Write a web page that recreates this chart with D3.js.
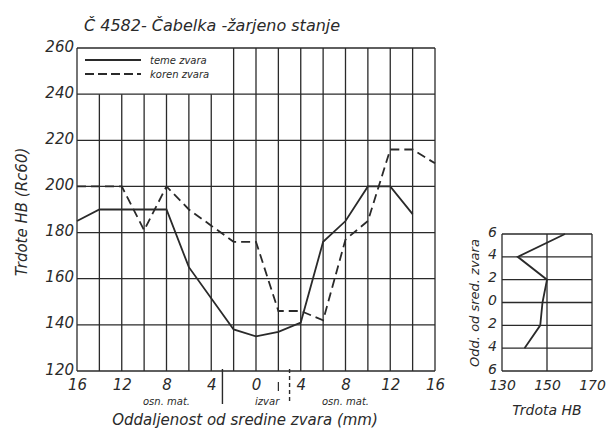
<!DOCTYPE html>
<html>
<head>
<meta charset="utf-8">
<script src="https://cdn.jsdelivr.net/npm/d3@7"></script>
<style>
  body { margin: 0; background: #fff; }
  svg text { font-family: "DejaVu Sans", sans-serif; font-style: italic; fill: #2a2a2a; }
</style>
</head>
<body>
<script>
// main chart data: distance from weld centre (mm) and hardness
const positions = [-16, -14, -12, -10, -8, -6, -4, -2, 0, 2, 4, 6, 8, 10, 12, 14, 16];
const temeZvara = [185, 190, 190, 190, 190, 165, null, 138, 135, 137, 141, 176, 185, 200, 200, 188, null];
const korenZvara = [200, null, 200, 181, 200, 190, 183, 176, 176, 146, 146, 142, 177, 185, 216, 216, 210];
const xTicks = [-16, -12, -8, -4, 0, 4, 8, 12, 16];
const yTicks = [120, 140, 160, 180, 200, 220, 240, 260];

// small side chart
const sidePositions = [6, 4, 2, 0, -2, -4];
const sideHardness = [158, 137, 150, 148, 147, 140];
const sideYTicks = [-6, -4, -2, 0, 2, 4, 6];
const sideXTicks = [130, 150, 170];

const W = 608, H = 430;
const ink = "#2a2a2a";

const svg = d3.select("body").append("svg")
    .attr("width", W)
    .attr("height", H);

// Set the ranges
const x = d3.scaleLinear().domain([-16, 16]).range([77, 435]);
const y = d3.scaleLinear().domain([120, 260]).range([371, 48]);

const grid = svg.append("g")
    .attr("stroke", ink)
    .attr("stroke-width", 1.3);

// horizontal grid
grid.selectAll("line.h")
  .data(yTicks)
  .join("line")
    .attr("class", "h")
    .attr("x1", x(-16)).attr("x2", x(16))
    .attr("y1", d => y(d)).attr("y2", d => y(d));

// vertical grid, legend box leaves the top band empty left of -2
grid.selectAll("line.v")
  .data(d3.range(-16, 17, 2))
  .join("line")
    .attr("class", "v")
    .attr("x1", d => x(d)).attr("x2", d => x(d))
    .attr("y1", y(120))
    .attr("y2", d => (d >= -2 || d == -16) ? y(260) : y(240));

// Y axis labels
svg.append("g")
    .attr("transform", "translate(" + (x(-16) - 1) + ",0)")
    .call(d3.axisLeft(y).tickValues(yTicks).tickSize(0).tickPadding(2))
    .call(g => g.select(".domain").remove())
    .call(g => g.selectAll("text").attr("font-size", 15).attr("fill", ink).attr("dy", "0.2em")
        .style("font-family", "DejaVu Sans").style("font-style", "italic"));

// X axis labels
svg.append("g")
    .attr("transform", "translate(0," + y(120) + ")")
    .call(d3.axisBottom(x).tickValues(xTicks).tickSize(0).tickPadding(8)
        .tickFormat(d => Math.abs(d)))
    .call(g => g.select(".domain").remove())
    .call(g => g.selectAll("text").attr("font-size", 15).attr("fill", ink)
        .style("font-family", "DejaVu Sans").style("font-style", "italic"));

// zone markers below axis
svg.append("line")
    .attr("x1", x(-3)).attr("x2", x(-3))
    .attr("y1", y(120) - 2).attr("y2", 404)
    .attr("stroke", ink).attr("stroke-width", 1.4);
svg.append("line")
    .attr("x1", x(3)).attr("x2", x(3))
    .attr("y1", y(120) - 2).attr("y2", 404)
    .attr("stroke", ink).attr("stroke-width", 1.4)
    .attr("stroke-dasharray", "4,3");
svg.append("line")
    .attr("x1", x(2)).attr("x2", x(2))
    .attr("y1", 382).attr("y2", 391)
    .attr("stroke", ink).attr("stroke-width", 1.2);

svg.append("text").attr("x", x(-8)).attr("y", 405).attr("text-anchor", "middle")
    .attr("font-size", 10).text("osn. mat.");
svg.append("text").attr("x", x(8)).attr("y", 405).attr("text-anchor", "middle")
    .attr("font-size", 10).text("osn. mat.");
svg.append("text").attr("x", x(1)).attr("y", 405).attr("text-anchor", "middle")
    .attr("font-size", 10).text("izvar");

// titles
svg.append("text").attr("x", 84).attr("y", 31)
    .attr("font-size", 16).text("Č 4582- Čabelka -žarjeno stanje");

svg.append("text").attr("x", 245).attr("y", 425).attr("text-anchor", "middle")
    .attr("font-size", 15).text("Oddaljenost od sredine zvara (mm)");

svg.append("text")
    .attr("transform", "translate(27,212) rotate(-90)")
    .attr("text-anchor", "middle")
    .attr("font-size", 15).text("Trdote HB (Rc60)");

// Define the line
const valueline = d3.line()
    .x(d => x(d[0]))
    .y(d => y(d[1]));

const solidPts = positions.map((p, i) => [p, temeZvara[i]]).filter(d => d[1] != null);
const dashPts = positions.map((p, i) => [p, korenZvara[i]]).filter(d => d[1] != null);

svg.append("path")
    .attr("d", valueline(solidPts))
    .attr("fill", "none").attr("stroke", ink).attr("stroke-width", 1.8);

svg.append("path")
    .attr("d", valueline(dashPts))
    .attr("fill", "none").attr("stroke", ink).attr("stroke-width", 1.8)
    .attr("stroke-dasharray", "9,5");

// legend
const legend = svg.append("g");
legend.append("line").attr("x1", 85).attr("x2", 141).attr("y1", 60).attr("y2", 60)
    .attr("stroke", ink).attr("stroke-width", 1.8);
legend.append("line").attr("x1", 85).attr("x2", 141).attr("y1", 74).attr("y2", 74)
    .attr("stroke", ink).attr("stroke-width", 1.8).attr("stroke-dasharray", "9,4");
legend.append("text").attr("x", 150).attr("y", 64).attr("font-size", 10).text("teme zvara");
legend.append("text").attr("x", 150).attr("y", 78).attr("font-size", 10).text("koren zvara");

// side chart
const xs = d3.scaleLinear().domain([130, 170]).range([502, 592]);
const ys = d3.scaleLinear().domain([-6, 6]).range([371, 234]);

const sgrid = svg.append("g").attr("stroke", ink).attr("stroke-width", 1.3);
sgrid.selectAll("line.h")
  .data(sideYTicks)
  .join("line")
    .attr("class", "h")
    .attr("x1", xs(130)).attr("x2", xs(170))
    .attr("y1", d => ys(d)).attr("y2", d => ys(d));
sgrid.selectAll("line.v")
  .data(sideXTicks)
  .join("line")
    .attr("class", "v")
    .attr("x1", d => xs(d)).attr("x2", d => xs(d))
    .attr("y1", ys(-6)).attr("y2", ys(6));

svg.append("g")
    .attr("transform", "translate(" + (xs(130) - 2) + ",0)")
    .call(d3.axisLeft(ys).tickValues(sideYTicks).tickSize(0).tickPadding(3)
        .tickFormat(d => Math.abs(d)))
    .call(g => g.select(".domain").remove())
    .call(g => g.selectAll("text").attr("font-size", 14).attr("fill", ink).attr("dy", "0.15em")
        .style("font-family", "DejaVu Sans").style("font-style", "italic"));

svg.append("g")
    .attr("transform", "translate(0," + ys(-6) + ")")
    .call(d3.axisBottom(xs).tickValues(sideXTicks).tickSize(0).tickPadding(9))
    .call(g => g.select(".domain").remove())
    .call(g => g.selectAll("text").attr("font-size", 14).attr("fill", ink)
        .style("font-family", "DejaVu Sans").style("font-style", "italic"));

const sideline = d3.line()
    .x(d => xs(d[1]))
    .y(d => ys(d[0]));

svg.append("path")
    .attr("d", sideline(sidePositions.map((p, i) => [p, sideHardness[i]])))
    .attr("fill", "none").attr("stroke", ink).attr("stroke-width", 1.8);

svg.append("text").attr("x", 547).attr("y", 415).attr("text-anchor", "middle")
    .attr("font-size", 14).text("Trdota HB");

svg.append("text")
    .attr("transform", "translate(479,303) rotate(-90)")
    .attr("text-anchor", "middle")
    .attr("font-size", 13).text("Odd. od sred. zvara");
</script>
</body>
</html>
